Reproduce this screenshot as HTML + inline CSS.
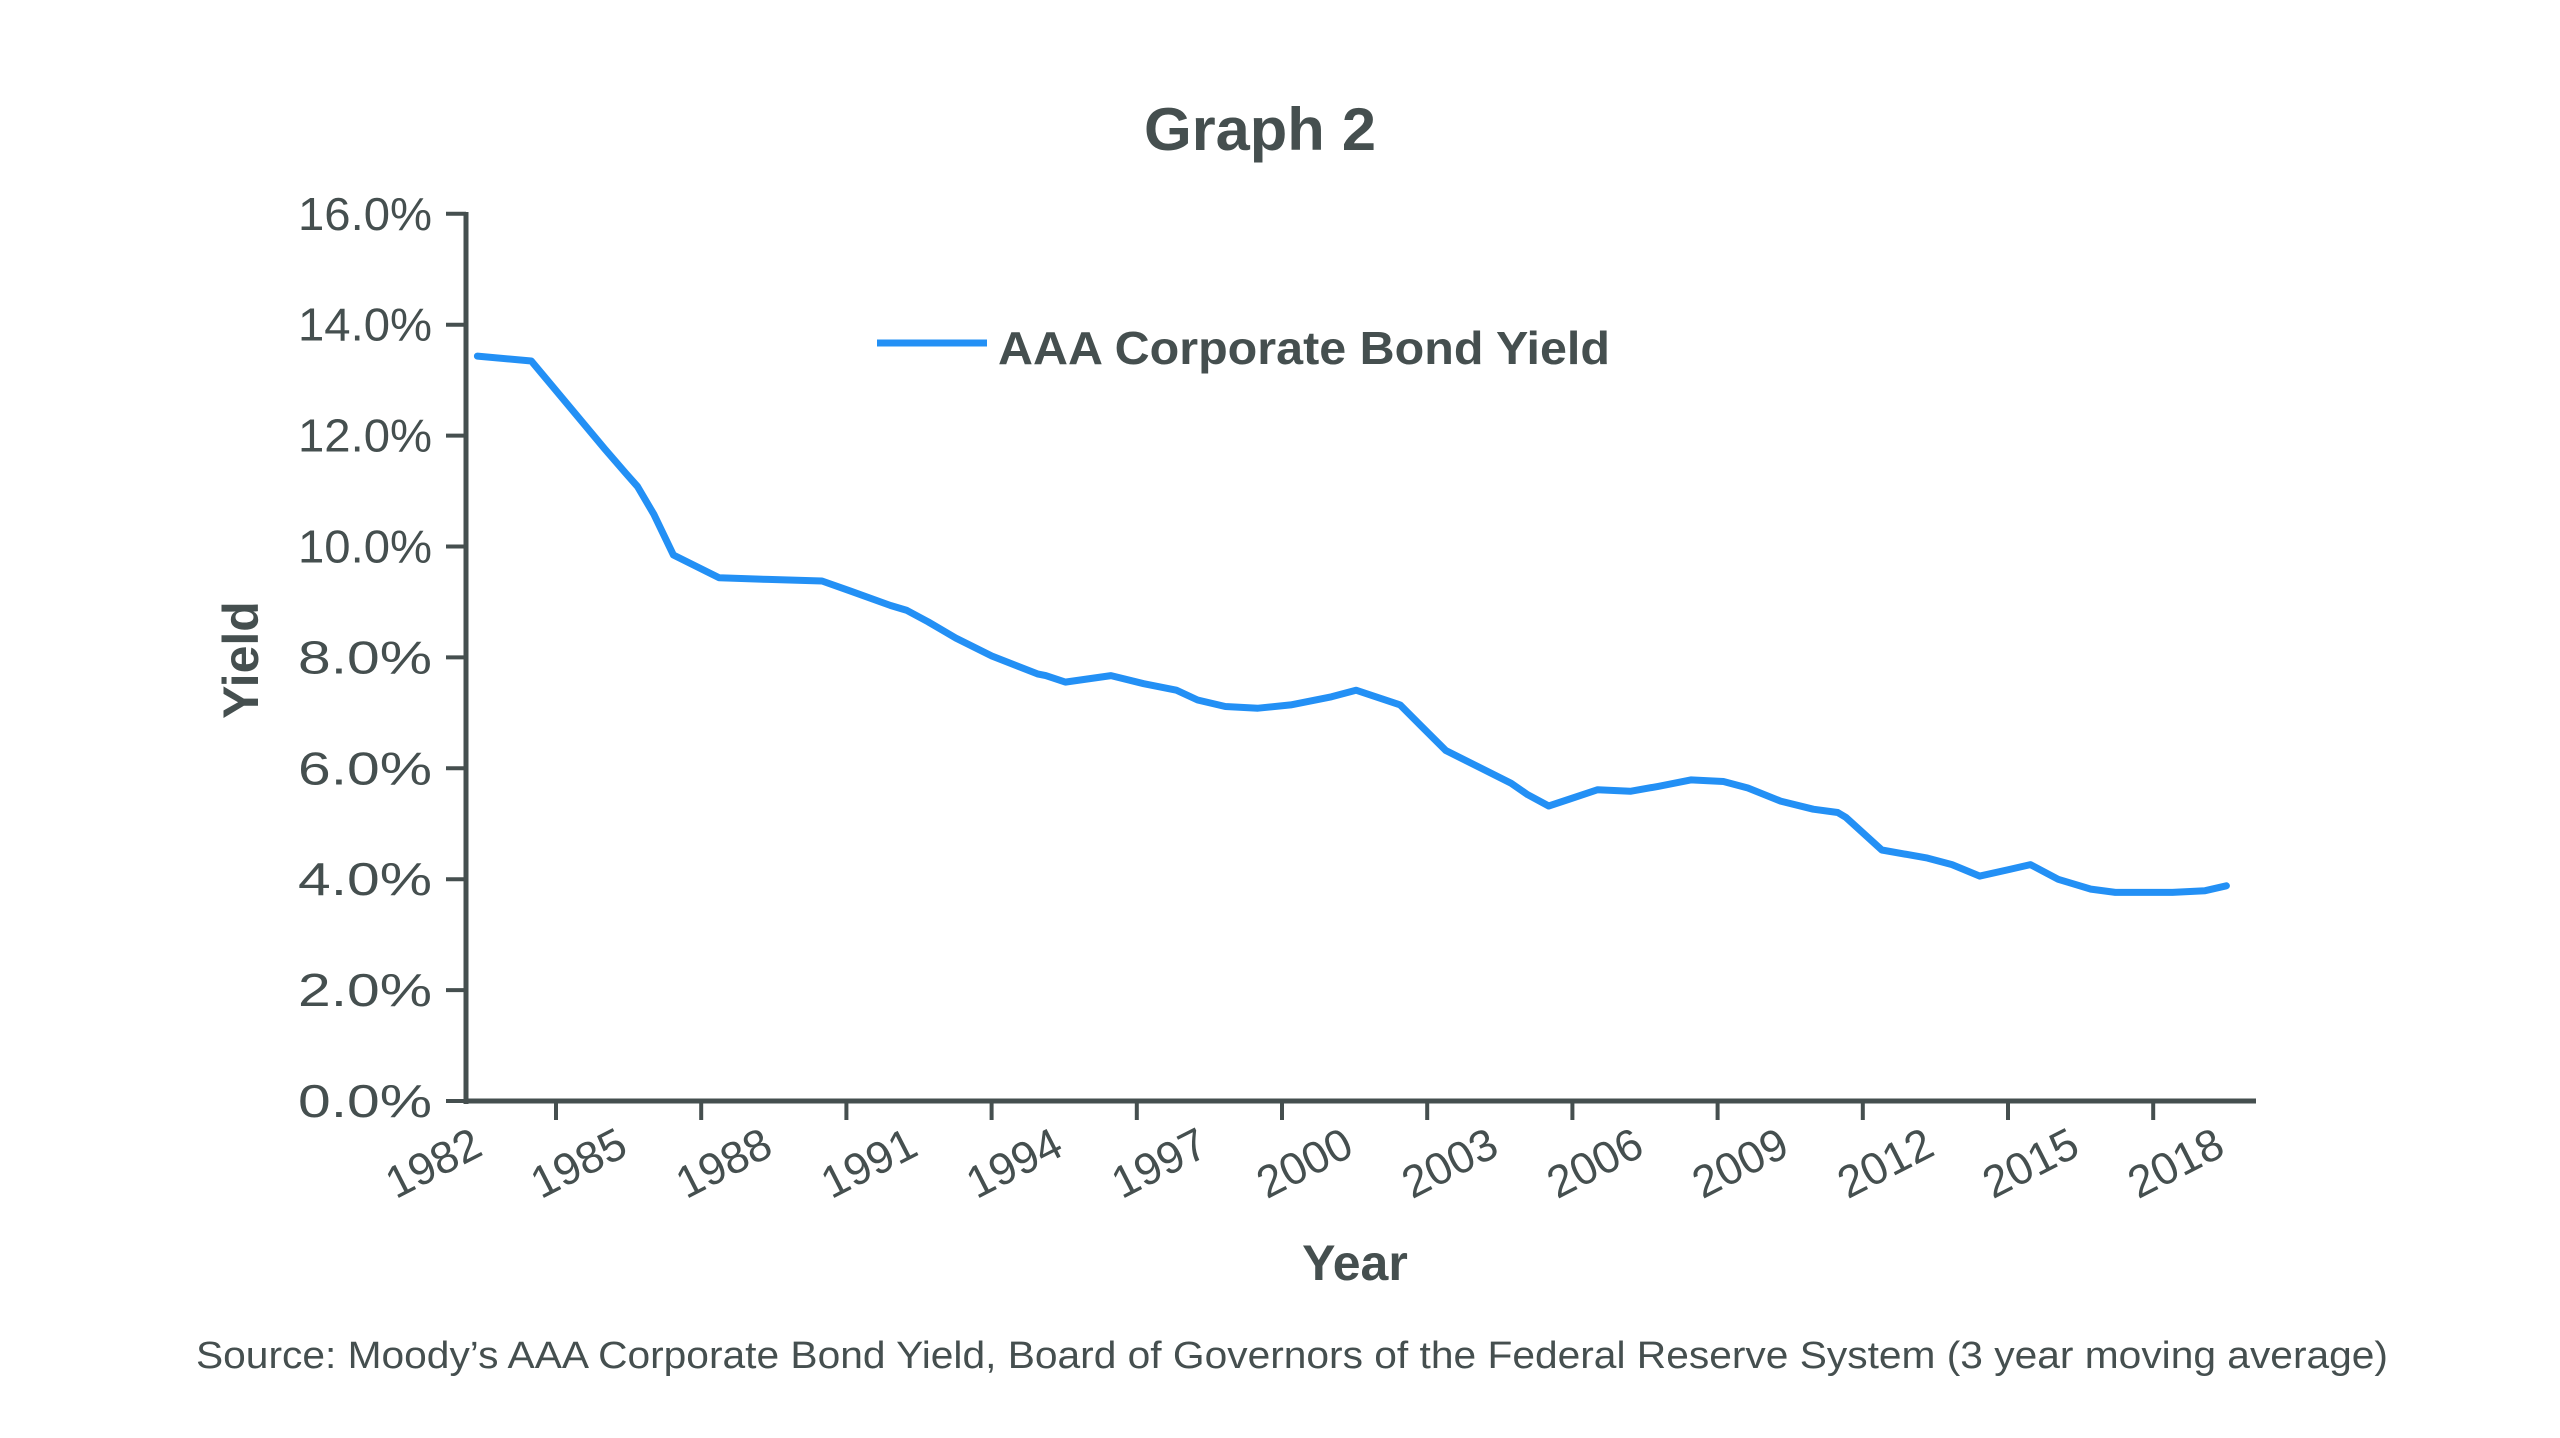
<!DOCTYPE html>
<html><head><meta charset="utf-8"><style>
html,body{margin:0;padding:0;background:#fff;}
svg{display:block;font-family:"Liberation Sans",sans-serif;}
</style></head><body>
<svg id="s" width="2560" height="1438" viewBox="0 0 2560 1438" xmlns="http://www.w3.org/2000/svg">
<rect width="2560" height="1438" fill="#fff"/>
<text x="1260" y="150" font-size="60" font-weight="bold" fill="#454f4f" text-anchor="middle" textLength="232" lengthAdjust="spacingAndGlyphs">Graph 2</text>
<g stroke="#454f4f" stroke-width="5" fill="none">
<line x1="466" y1="212" x2="466" y2="1104"/>
<line x1="464" y1="1101" x2="2256" y2="1101"/>
</g>
<g id="yt" stroke="#454f4f" stroke-width="4"></g>
<g id="yl" font-size="46" fill="#454f4f" text-anchor="end"></g>
<g id="xt" stroke="#454f4f" stroke-width="4"></g>
<g id="xl" font-size="45" fill="#454f4f" text-anchor="end"></g>
<text transform="translate(258,660) rotate(-90)" font-size="50" font-weight="bold" fill="#454f4f" text-anchor="middle">Yield</text>
<text x="1355" y="1280" font-size="50" font-weight="bold" fill="#454f4f" text-anchor="middle">Year</text>
<text x="1292" y="1368" font-size="38" fill="#454f4f" text-anchor="middle" textLength="2192" lengthAdjust="spacingAndGlyphs">Source: Moody’s AAA Corporate Bond Yield, Board of Governors of the Federal Reserve System (3 year moving average)</text>
<line x1="877" y1="343" x2="987" y2="343" stroke="#2390f5" stroke-width="7"/>
<text x="998" y="364" font-size="46" font-weight="bold" fill="#454f4f" textLength="612" lengthAdjust="spacingAndGlyphs">AAA Corporate Bond Yield</text>
<polyline id="ln" fill="none" stroke="#2390f5" stroke-width="7" stroke-linejoin="round" stroke-linecap="round"/>
</svg>
<script>
var NS="http://www.w3.org/2000/svg";
function el(p,t,a,txt){var e=document.createElementNS(NS,t);for(var k in a)e.setAttribute(k,a[k]);if(txt)e.textContent=txt;document.getElementById(p).appendChild(e);}
for(var i=0;i<=8;i++){var y=1101-i*110.9;el("yt","line",{x1:446,y1:y,x2:466,y2:y});el("yl","text",{x:432,y:y+16,textLength:134,lengthAdjust:"spacingAndGlyphs"},(i*2).toFixed(1)+"%");}
var yrs=[1982,1985,1988,1991,1994,1997,2000,2003,2006,2009,2012,2015,2018];
for(var j=0;j<yrs.length;j++){var x=556+(j-1)*145.2;if(j>0)el("xt","line",{x1:x,y1:1101,x2:x,y2:1120});
el("xl","text",{x:0,y:0,transform:"translate("+(x+74)+",1154) rotate(-27)",textLength:100,lengthAdjust:"spacingAndGlyphs"},String(yrs[j]));}
var d=[[292,218],[325,221],[345,245],[370,275],[383,290],[390,298],[400,315],[412,340],[440,354],[470,355],[503,356],[520,362],[545,371],[555,374],[568,381],[585,391],[607,402],[635,413],[640,414],[652,418],[680,414],[700,419],[720,423],[733,429],[750,433],[770,434],[790,432],[815,427],[830,423],[857,432],[870,445],[885,460],[905,470],[925,480],[935,487],[948,494],[960,490],[978,484],[998,485],[1015,482],[1035,478],[1055,479],[1070,483],[1090,491],[1110,496],[1125,498],[1130,501],[1152,521],[1180,526],[1195,530],[1212,537],[1230,533],[1243,530],[1260,539],[1280,545],[1295,547],[1330,547],[1350,546],[1363,543]];
document.getElementById("ln").setAttribute("points",d.map(function(p){return (466+(p[0]-285)*1.633).toFixed(1)+","+(1101-(675-p[1])*1.63).toFixed(1);}).join(" "));
</script>
</body></html>
